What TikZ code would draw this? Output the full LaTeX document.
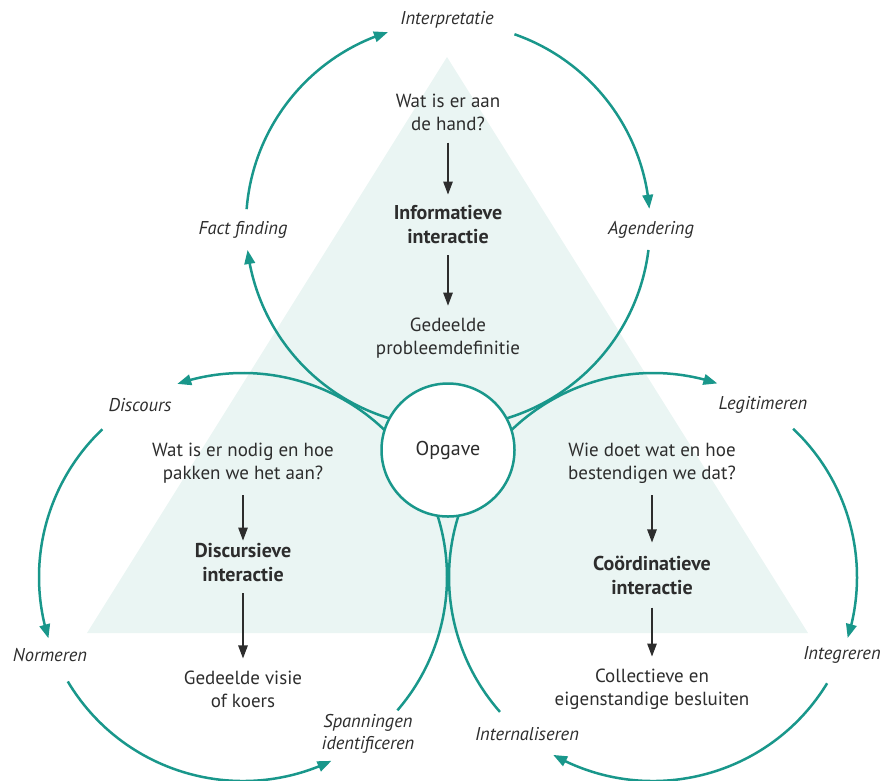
\documentclass[tikz,border=0pt]{standalone}
\usepackage{fontspec}
\setmainfont{PT Sans}
\usetikzlibrary{arrows.meta,bending}
\definecolor{cyclecol}{HTML}{19978B}
\definecolor{trifill}{HTML}{EAF5F3}
\definecolor{ink}{HTML}{2D2D2D}
\begin{document}
\begin{tikzpicture}[x=1pt,y=-1pt,
  cyc/.style={draw=cyclecol, line width=2.5pt},
  cycarrow/.style={cyc, -{Triangle[length=14pt,width=10.5pt,flex]}},
  flow/.style={draw=ink, line width=1.2pt, -{Triangle[length=13pt,width=9.5pt]}},
  lbl/.style={font=\itshape\fontsize{18.5}{22}\selectfont, text=ink, align=center, inner sep=0pt},
  body/.style={font=\fontsize{19}{23}\selectfont, text=ink, align=center, inner sep=0pt},
  headtxt/.style={font=\bfseries\fontsize{20}{24}\selectfont, text=ink, align=center, inner sep=0pt},
  hub/.style={circle, draw=cyclecol, line width=2.5pt, fill=white, minimum size=133pt, inner sep=0pt, font=\fontsize{20}{24}\selectfont, text=ink}
]
\useasboundingbox (0,0) rectangle (885,780);

% background triangle
\fill[trifill] (447,57) -- (808,633) -- (87,633) -- cycle;

% centres of the three cycles
\coordinate (cT) at (448,225);
\coordinate (cL) at (243,577);
\coordinate (cR) at (653,577);

% top cycle: informative interaction
\draw[cycarrow] ([shift={(90:202)}]cT) arc[start angle=90, end angle=172.9, radius=202];
\draw[cycarrow] ([shift={(184.5:202)}]cT) arc[start angle=184.5, end angle=252.7, radius=202];
\draw[cycarrow] ([shift={(289.2:202)}]cT) arc[start angle=289.2, end angle=355.4, radius=202];
\draw[cyc] ([shift={(7.1:202)}]cT) arc[start angle=7.1, end angle=90, radius=202];

% left cycle: discursive interaction
\draw[cycarrow] ([shift={(-30:204)}]cL) arc[start angle=-30, end angle=-108.8, radius=204];
\draw[cycarrow] ([shift={(-133.6:204)}]cL) arc[start angle=-133.6, end angle=-197.5, radius=204];
\draw[cycarrow] ([shift={(149.2:204)}]cL) arc[start angle=149.2, end angle=64.3, radius=204];
\draw[cyc] ([shift={(40.8:204)}]cL) arc[start angle=40.8, end angle=-25, radius=204];

% right cycle: coordinative interaction
\draw[cycarrow] ([shift={(210:204)}]cR) arc[start angle=210, end angle=288.4, radius=204];
\draw[cycarrow] ([shift={(313.4:204)}]cR) arc[start angle=313.4, end angle=377.4, radius=204];
\draw[cycarrow] ([shift={(31.4:204)}]cR) arc[start angle=31.4, end angle=119.3, radius=204];
\draw[cyc] ([shift={(138.6:204)}]cR) arc[start angle=138.6, end angle=205, radius=204];

% central task
\node[hub] (opgave) at (448,450) {Opgave};

% cycle step labels
\node[lbl] (interp) at (447,20) {Interpretatie};
\node[lbl] (fact) at (243,230) {Fact finding};
\node[lbl] (agend) at (651,230) {Agendering};
\node[lbl] (disc) at (140,405) {Discours};
\node[lbl] (norm) at (50,655) {Normeren};
\node[lbl] (span) at (368,734) {Spanningen\\identificeren};
\node[lbl] (legit) at (763,405) {Legitimeren};
\node[lbl] (integ) at (842,655) {Integreren};
\node[lbl] (intern) at (527,734) {Internaliseren};

% top column
\node[body] (qT) at (448,112) {Wat is er aan\\de hand?};
\node[headtxt] (hT) at (448,225) {Informatieve\\interactie};
\node[body] (rT) at (448,338) {Gedeelde\\probleemdefinitie};

% left column
\node[body] (qL) at (243,463) {Wat is er nodig en hoe\\pakken we het aan?};
\node[headtxt] (hL) at (243,563) {Discursieve\\interactie};
\node[body] (rL) at (243,689) {Gedeelde visie\\of koers};

% right column
\node[body] (qR) at (652,463) {Wie doet wat en hoe\\bestendigen we dat?};
\node[headtxt] (hR) at (652,575) {Coördinatieve\\interactie};
\node[body] (rR) at (652,689) {Collectieve en\\eigenstandige besluiten};

% steps within each column
\draw[flow, shorten <=12pt, shorten >=11pt] (qT) -- (hT);
\draw[flow, shorten <=11pt, shorten >=12pt] (hT) -- (rT);
\draw[flow, shorten <=12pt, shorten >=3pt] (qL) -- (hL);
\draw[flow, shorten <=11pt, shorten >=12pt] (hL) -- (rL);
\draw[flow, shorten <=12pt, shorten >=13pt] (qR) -- (hR);
\draw[flow, shorten <=13pt, shorten >=12pt] (hR) -- (rR);
\end{tikzpicture}
\end{document}
